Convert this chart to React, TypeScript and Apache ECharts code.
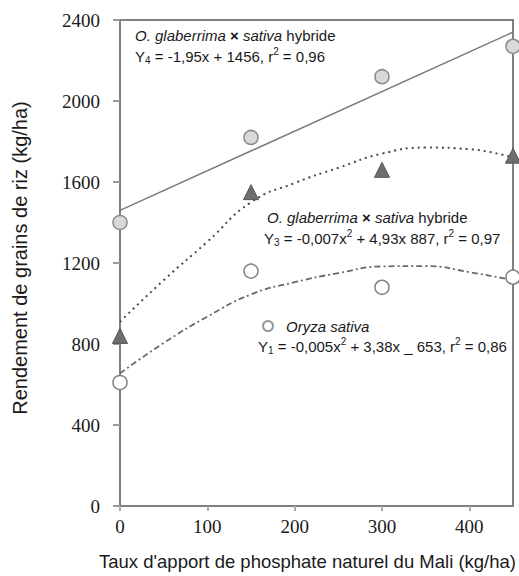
import React, { useEffect, useRef } from "react";
import * as echarts from "echarts";

// Phosphate rates (kg/ha)
const doses = [0, 150, 300, 450];
// Observed yields (kg/ha)
const hybridY4Points = [1400, 1820, 2120, 2270];
const hybridY3Points = [840, 1550, 1660, 1730];
const sativaY1Points = [610, 1160, 1080, 1130];

// Fitted curves
const fitY4X = [0, 450];
const fitY4 = [1460, 2340];
const curveX = [0, 50, 100, 150, 200, 250, 300, 350, 400, 450];
const fitY3 = [910, 1115, 1305, 1500, 1595, 1670, 1740, 1770, 1762, 1720];
const fitY1 = [655, 805, 935, 1045, 1105, 1150, 1183, 1185, 1155, 1115];

const xTicks = { min: 0, max: 450, interval: 100 };
const yTicks = { min: 0, max: 2400, interval: 400 };

const SANS = "'Liberation Sans', Arial, sans-serif";
const SERIF = "'Liberation Serif', 'Times New Roman', Times, serif";
const TXT = "#1a1a1a";
const AXIS = "#808080";

const pairs = (xs: number[], ys: number[]) => xs.map((x, i) => [x, ys[i]]);

const FS = 15;
const rich = {
  n: { fontFamily: SANS, fontSize: FS, fill: TXT, lineHeight: 19 },
  i: { fontFamily: SANS, fontSize: FS, fontStyle: "italic", fill: TXT, lineHeight: 19 },
  b: { fontFamily: SANS, fontSize: FS, fontWeight: "bold", fill: TXT, lineHeight: 19 },
  sub: { fontFamily: SANS, fontSize: 10, fill: TXT, lineHeight: 10, verticalAlign: "bottom" },
  sup: { fontFamily: SANS, fontSize: 10, fill: TXT, lineHeight: 10, verticalAlign: "top" },
};

const label = (x: number, y: number, text: string) => ({
  type: "text",
  x,
  y,
  z: 10,
  style: {
    text,
    rich,
    fontFamily: SANS,
    fontSize: FS,
    fill: TXT,
    verticalAlign: "middle",
    align: "left",
  },
});

export default function App() {
  const ref = useRef<HTMLDivElement>(null);
  useEffect(() => {
    document.body.style.margin = "0";
    const chart = echarts.init(ref.current!, null, { renderer: "svg" });
    chart.setOption({
      animation: false,
      backgroundColor: "#ffffff",
      grid: {
        left: 120,
        top: 20,
        width: 393,
        height: 488,
        show: true,
        borderColor: AXIS,
        borderWidth: 2,
        backgroundColor: "transparent",
      },
      xAxis: {
        type: "value",
        ...xTicks,
        name: "Taux d'apport de phosphate naturel du Mali (kg/ha)",
        nameLocation: "middle",
        nameGap: 46,
        nameTextStyle: { fontFamily: SANS, fontSize: 18.5, color: TXT, padding: [0, 18, 0, 0] },
        axisLine: { show: true, lineStyle: { color: AXIS, width: 2 } },
        axisTick: { show: true, inside: false, length: 5, lineStyle: { color: "#aaaaaa", width: 2 } },
        axisLabel: {
          fontFamily: SERIF,
          fontSize: 19,
          color: TXT,
          margin: 11,
          showMaxLabel: false,
          formatter: (v: number) => String(v),
        },
        splitLine: { show: false },
      },
      yAxis: {
        type: "value",
        ...yTicks,
        name: "Rendement de grains de riz (kg/ha)",
        nameLocation: "middle",
        nameGap: 90,
        nameTextStyle: { fontFamily: SANS, fontSize: 20, color: TXT, padding: [0, 0, 0, 10] },
        axisLine: { show: true, lineStyle: { color: AXIS, width: 2 } },
        axisTick: { show: true, inside: false, length: 7, lineStyle: { color: "#999999", width: 2 } },
        axisLabel: {
          fontFamily: SERIF,
          fontSize: 19,
          color: TXT,
          margin: 20,
          formatter: (v: number) => String(v),
        },
        splitLine: { show: false },
      },
      series: [
        {
          type: "line",
          data: pairs(fitY4X, fitY4),
          showSymbol: false,
          symbol: "none",
          lineStyle: { color: "#7a7a7a", width: 1.5, type: "solid" },
          z: 2,
        },
        {
          type: "line",
          data: pairs(curveX, fitY3),
          smooth: true,
          symbol: "none",
          lineStyle: { color: "#4a4a4a", width: 2, type: [2, 4] },
          z: 2,
        },
        {
          type: "line",
          data: pairs(curveX, fitY1),
          smooth: true,
          symbol: "none",
          lineStyle: { color: "#6a6a6a", width: 1.8, type: [6, 3, 2, 3] },
          z: 2,
        },
        {
          type: "scatter",
          data: pairs(doses, hybridY4Points),
          symbol: "circle",
          symbolSize: 14,
          clip: false,
          itemStyle: { color: "#d9d9d9", borderColor: "#8a8a8a", borderWidth: 1.5, opacity: 1 },
          z: 5,
        },
        {
          type: "scatter",
          data: pairs(doses, hybridY3Points),
          symbol: "triangle",
          symbolSize: 15,
          clip: false,
          itemStyle: { color: "#6e6e6e", borderColor: "#555555", borderWidth: 1, opacity: 1 },
          z: 5,
        },
        {
          type: "scatter",
          data: pairs(doses, sativaY1Points),
          symbol: "circle",
          symbolSize: 14,
          clip: false,
          itemStyle: { color: "#ffffff", borderColor: "#808080", borderWidth: 1.5, opacity: 1 },
          z: 5,
        },
      ],
      graphic: [
        label(135, 35, "{i|O. glaberrima}{b| × }{i|sativa}{n| hybride}"),
        label(135, 56, "{n|Y}{sub|4}{n| = -1,95x + 1456, r}{sup|2}{n| = 0,96}"),
        label(267, 217, "{i|O. glaberrima}{b| × }{i|sativa}{n| hybride}"),
        label(264, 238, "{n|Y}{sub|3}{n| = -0,007x}{sup|2}{n| + 4,93x 887, r}{sup|2}{n| = 0,97}"),
        {
          type: "circle",
          shape: { cx: 268, cy: 326, r: 5 },
          style: { fill: "#ffffff", stroke: "#999999", lineWidth: 2 },
          z: 10,
        },
        label(286, 326, "{i|Oryza sativa}"),
        label(258, 346, "{n|Y}{sub|1}{n| = -0,005x}{sup|2}{n| + 3,38x _ 653, r}{sup|2}{n| = 0,86}"),
      ],
    });
    return () => chart.dispose();
  }, []);
  return <div ref={ref} style={{ width: 519, height: 576 }} />;
}
